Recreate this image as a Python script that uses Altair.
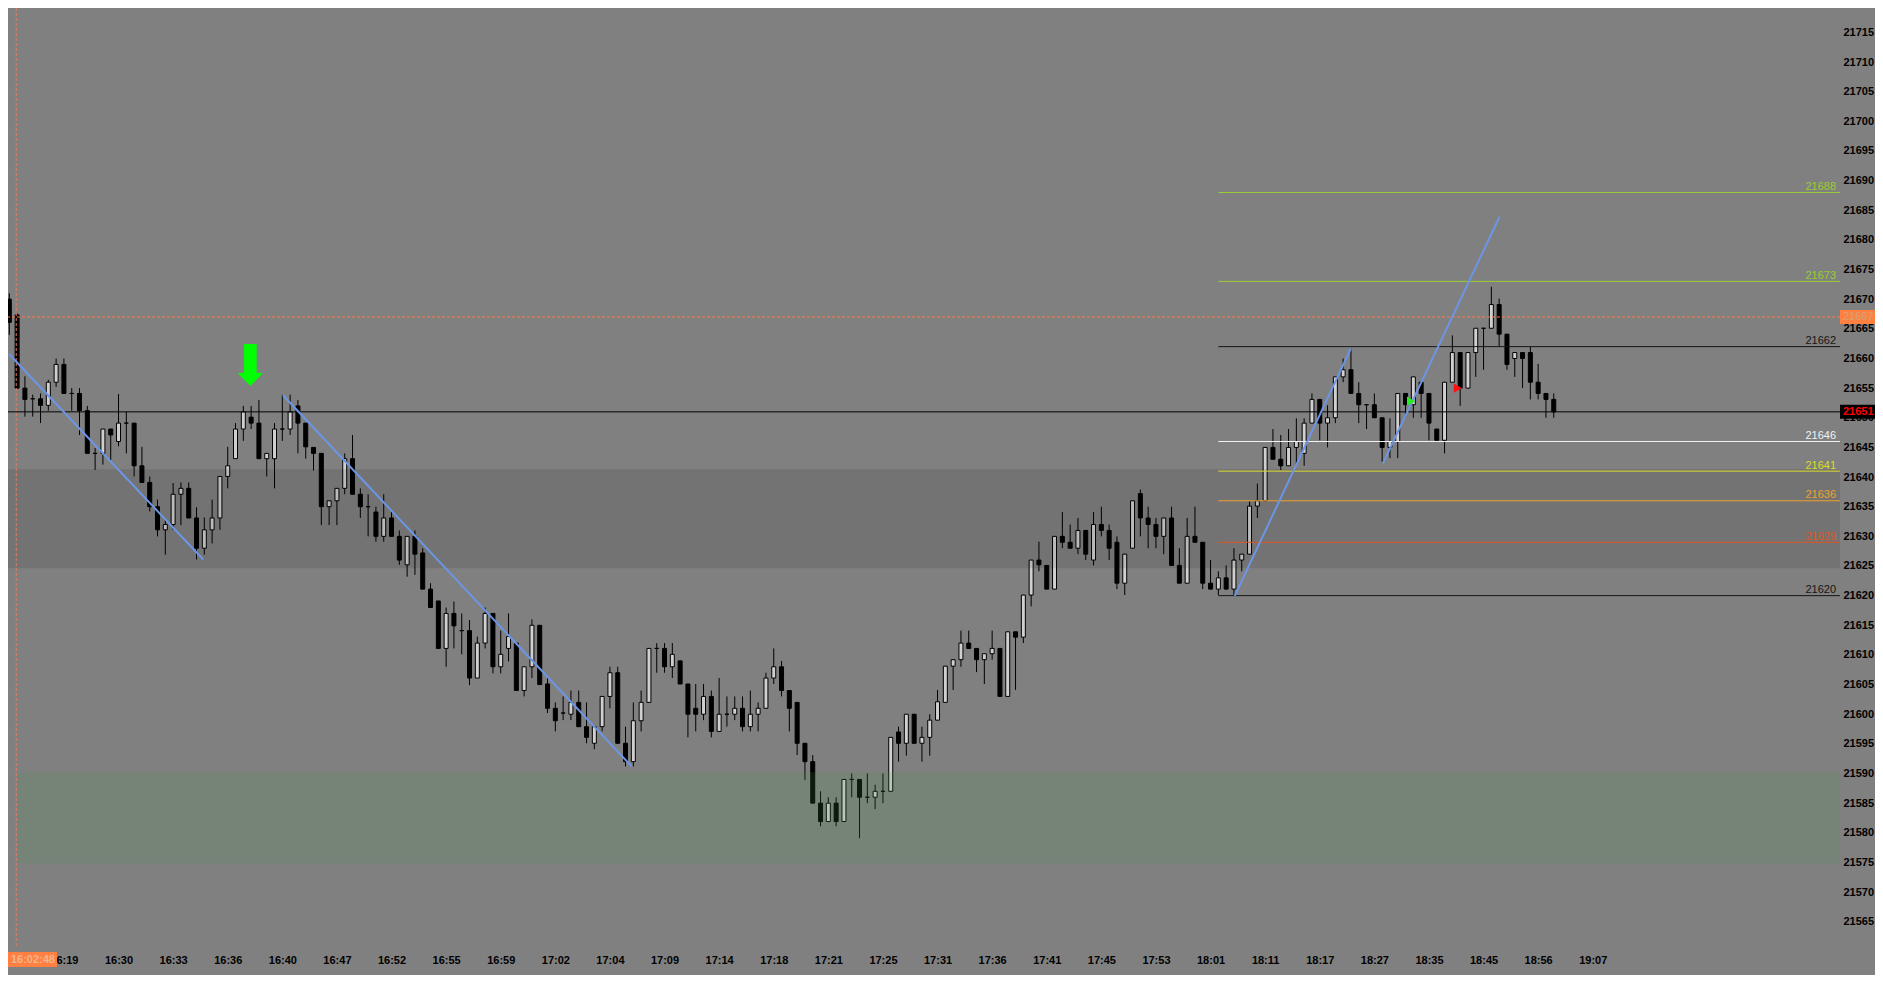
import json
import altair as alt
import pandas as pd

# ---------------- data ----------------
opens = [21670.0, 21667.35, 21655.0, 21653.2, 21653.2, 21652.1, 21656.0, 21659.0, 21654.1, 21654.1,
         21651.2, 21644.0, 21644.0, 21648.1, 21646.0, 21649.1, 21649.1, 21641.9, 21639.1, 21635.0,
         21631.1, 21632.0, 21637.1, 21638.1, 21633.1, 21628.0, 21631.1, 21633.1, 21640.1, 21643.1,
         21648.1, 21650.1, 21649.1, 21643.1, 21643.1, 21648.1, 21648.1, 21652.0, 21649.1, 21645.0,
         21644.0, 21635.0, 21636.0, 21638.1, 21643.1, 21637.1, 21635.0, 21634.1, 21630.0, 21633.1,
         21630.0, 21625.2, 21630.0, 21627.2, 21621.1, 21619.1, 21611.1, 21617.0, 21614.1, 21614.1,
         21606.1, 21612.0, 21617.0, 21608.0, 21611.1, 21612.0, 21604.0, 21608.0, 21615.0, 21605.1,
         21601.0, 21600.2, 21600.0, 21602.0, 21597.9, 21595.1, 21597.9, 21603.0, 21607.0, 21595.1,
         21592.0, 21598.9, 21602.0, 21611.1, 21611.1, 21608.0, 21609.0, 21605.1, 21601.0, 21600.0,
         21603.0, 21597.1, 21600.0, 21600.0, 21601.0, 21597.9, 21600.0, 21601.0, 21606.1, 21608.0,
         21604.0, 21602.0, 21595.1, 21592.0, 21585.0, 21581.9, 21585.0, 21581.9, 21589.0, 21589.0,
         21586.0, 21586.0, 21587.0, 21587.0, 21597.0, 21595.1, 21600.0, 21595.1, 21596.1, 21599.0,
         21602.0, 21608.1, 21609.2, 21612.0, 21611.1, 21609.2, 21610.2, 21611.1, 21603.0, 21613.9,
         21613.0, 21620.1, 21626.0, 21625.1, 21621.1, 21630.0, 21629.0, 21628.0, 21631.0, 21626.0,
         21632.0, 21631.0, 21629.0, 21622.1, 21628.0, 21637.2, 21633.1, 21632.0, 21630.0, 21633.1,
         21625.1, 21622.1, 21630.0, 21629.0, 21622.1, 21621.1, 21623.0, 21621.1, 21626.0, 21627.0,
         21635.1, 21636.0, 21645.0, 21643.0, 21641.9, 21645.0, 21644.0, 21649.1, 21653.1, 21649.1,
         21650.0, 21656.9, 21658.1, 21654.1, 21652.2, 21652.2, 21650.0, 21645.0, 21646.0, 21654.1,
         21652.2, 21656.0, 21654.1, 21648.1, 21646.2, 21656.0, 21661.0, 21655.0, 21661.0, 21665.1,
         21665.1, 21669.1, 21664.1, 21660.0, 21661.0, 21661.0, 21656.0, 21654.1, 21653.1]
highs = [21671.0, 21667.6, 21657.0, 21653.9, 21654.1, 21656.4, 21660.0, 21660.0, 21655.0, 21655.0,
         21652.0, 21644.9, 21648.1, 21648.1, 21654.0, 21651.0, 21649.1, 21645.1, 21640.1, 21636.2,
         21632.8, 21639.0, 21639.1, 21639.1, 21634.9, 21633.2, 21636.2, 21640.1, 21645.1, 21649.1,
         21652.0, 21652.0, 21653.0, 21644.0, 21649.1, 21653.9, 21653.9, 21653.0, 21649.1, 21645.0,
         21644.0, 21636.0, 21638.1, 21644.0, 21647.1, 21638.1, 21637.1, 21635.0, 21637.1, 21634.1,
         21631.0, 21630.0, 21631.0, 21628.0, 21622.1, 21619.1, 21618.0, 21619.0, 21617.0, 21615.9,
         21613.1, 21618.0, 21617.0, 21614.1, 21617.0, 21612.0, 21608.0, 21616.0, 21615.0, 21606.1,
         21602.0, 21603.0, 21604.0, 21604.0, 21602.0, 21597.9, 21603.0, 21608.0, 21608.0, 21597.9,
         21602.0, 21604.0, 21611.1, 21612.0, 21612.0, 21612.0, 21609.0, 21605.1, 21605.1, 21605.1,
         21604.0, 21606.1, 21603.0, 21603.0, 21603.0, 21604.0, 21602.0, 21607.0, 21611.1, 21609.0,
         21604.0, 21602.0, 21595.1, 21593.1, 21587.0, 21586.0, 21586.0, 21589.0, 21590.0, 21589.0,
         21590.0, 21588.1, 21590.0, 21596.1, 21597.9, 21600.0, 21600.0, 21597.9, 21600.0, 21604.1,
         21608.1, 21609.2, 21614.1, 21614.1, 21611.1, 21610.2, 21614.1, 21611.1, 21613.9, 21613.9,
         21620.1, 21626.0, 21629.1, 21625.1, 21630.0, 21634.1, 21632.0, 21633.1, 21631.0, 21634.1,
         21635.0, 21632.0, 21630.0, 21627.0, 21636.0, 21637.9, 21635.0, 21633.1, 21633.1, 21635.0,
         21628.0, 21633.1, 21635.0, 21629.0, 21626.0, 21624.1, 21625.1, 21628.0, 21627.0, 21635.9,
         21638.9, 21645.0, 21648.1, 21647.1, 21648.1, 21649.9, 21649.9, 21654.1, 21653.1, 21652.1,
         21656.9, 21660.0, 21661.7, 21656.0, 21652.2, 21654.1, 21650.0, 21649.9, 21654.1, 21654.1,
         21656.9, 21656.0, 21654.1, 21648.1, 21656.0, 21663.9, 21661.0, 21661.0, 21665.1, 21665.1,
         21672.1, 21670.1, 21664.1, 21661.0, 21661.0, 21662.0, 21659.1, 21654.1, 21654.1]
lows = [21664.0, 21655.0, 21650.2, 21650.2, 21649.1, 21651.2, 21655.2, 21654.1, 21651.2, 21647.1,
        21644.0, 21641.2, 21642.1, 21642.9, 21645.2, 21644.0, 21640.1, 21639.1, 21634.2, 21630.0,
        21626.9, 21631.1, 21631.9, 21633.1, 21626.1, 21626.9, 21628.8, 21631.1, 21638.1, 21643.1,
        21646.1, 21648.1, 21643.1, 21640.1, 21638.1, 21646.1, 21647.1, 21644.0, 21643.1, 21641.1,
        21631.9, 21631.9, 21631.9, 21637.1, 21637.1, 21633.1, 21630.0, 21629.1, 21629.1, 21630.0,
        21625.2, 21623.2, 21623.5, 21621.1, 21618.0, 21611.1, 21608.0, 21611.1, 21610.1, 21604.9,
        21606.1, 21611.1, 21606.9, 21606.9, 21608.9, 21604.0, 21603.0, 21606.1, 21605.0, 21600.2,
        21597.1, 21599.0, 21599.0, 21597.9, 21595.1, 21594.1, 21597.1, 21601.0, 21595.1, 21591.2,
        21591.2, 21597.1, 21602.0, 21607.0, 21607.0, 21606.1, 21605.1, 21596.1, 21597.1, 21599.0,
        21596.1, 21597.1, 21597.9, 21599.0, 21597.1, 21597.1, 21597.1, 21601.0, 21605.1, 21603.0,
        21597.1, 21593.1, 21588.9, 21585.0, 21581.1, 21581.9, 21581.1, 21581.9, 21586.0, 21579.1,
        21585.0, 21584.0, 21585.0, 21587.0, 21592.0, 21593.0, 21595.1, 21592.0, 21593.0, 21599.0,
        21602.0, 21604.1, 21608.0, 21611.1, 21607.1, 21605.1, 21609.2, 21603.0, 21603.0, 21604.1,
        21612.0, 21618.2, 21624.1, 21621.1, 21621.1, 21628.0, 21628.0, 21627.0, 21626.0, 21625.1,
        21630.0, 21626.0, 21621.1, 21620.1, 21628.0, 21630.0, 21628.0, 21628.0, 21627.0, 21625.1,
        21622.1, 21622.1, 21629.0, 21621.1, 21621.1, 21620.1, 21621.1, 21620.1, 21624.1, 21627.0,
        21633.1, 21636.0, 21643.0, 21641.2, 21641.9, 21641.9, 21641.9, 21649.1, 21646.2, 21645.0,
        21649.1, 21656.0, 21654.1, 21649.1, 21648.1, 21650.0, 21642.6, 21643.2, 21643.2, 21650.0,
        21650.0, 21650.0, 21646.2, 21646.2, 21644.0, 21656.0, 21652.0, 21655.0, 21656.9, 21658.1,
        21665.1, 21662.0, 21658.1, 21656.9, 21655.0, 21653.1, 21653.1, 21650.0, 21650.0]
closes = [21666.1, 21655.0, 21653.1, 21653.2, 21652.1, 21656.0, 21659.0, 21654.1, 21654.1, 21651.2,
          21644.0, 21644.0, 21648.1, 21647.1, 21649.1, 21649.1, 21641.9, 21639.1, 21635.0, 21631.1,
          21632.0, 21637.1, 21638.1, 21633.1, 21628.0, 21631.1, 21633.1, 21640.1, 21641.9, 21648.1,
          21651.0, 21649.1, 21643.1, 21644.0, 21648.1, 21648.1, 21651.0, 21649.1, 21645.1, 21644.0,
          21635.0, 21636.0, 21638.1, 21643.1, 21637.1, 21635.0, 21635.0, 21630.0, 21633.1, 21630.0,
          21626.0, 21630.0, 21627.0, 21621.1, 21618.0, 21611.1, 21617.0, 21614.9, 21614.1, 21606.1,
          21612.0, 21617.0, 21608.0, 21610.1, 21613.1, 21604.0, 21608.0, 21615.0, 21605.0, 21601.0,
          21598.9, 21600.2, 21602.0, 21597.9, 21596.1, 21597.9, 21603.0, 21607.0, 21595.1, 21592.0,
          21598.9, 21602.0, 21611.1, 21611.1, 21608.0, 21610.1, 21605.1, 21600.0, 21600.0, 21603.0,
          21597.1, 21600.0, 21600.0, 21601.0, 21597.9, 21600.0, 21601.0, 21606.1, 21608.0, 21604.0,
          21601.0, 21595.1, 21592.0, 21585.0, 21581.9, 21585.0, 21581.9, 21589.0, 21589.0, 21586.0,
          21586.0, 21587.0, 21587.0, 21596.1, 21595.1, 21600.0, 21595.1, 21596.1, 21599.0, 21602.1,
          21608.1, 21609.2, 21612.0, 21611.1, 21609.2, 21610.2, 21611.1, 21603.0, 21613.9, 21613.0,
          21620.1, 21626.0, 21625.2, 21621.1, 21630.0, 21629.0, 21628.0, 21631.0, 21627.0, 21632.0,
          21631.0, 21628.0, 21622.1, 21627.0, 21636.0, 21633.1, 21632.0, 21630.0, 21633.1, 21625.1,
          21622.1, 21630.0, 21629.0, 21622.1, 21621.1, 21623.0, 21621.1, 21626.0, 21627.0, 21635.1,
          21636.0, 21645.0, 21643.0, 21641.9, 21645.0, 21646.0, 21649.1, 21653.1, 21649.1, 21650.0,
          21656.9, 21658.1, 21654.1, 21652.2, 21652.2, 21650.0, 21645.0, 21646.0, 21654.1, 21652.2,
          21656.9, 21654.1, 21649.1, 21646.2, 21656.0, 21661.0, 21655.0, 21661.0, 21665.1, 21665.1,
          21669.1, 21664.1, 21659.0, 21661.0, 21660.0, 21656.0, 21654.1, 21653.1, 21651.0]

time_labels = ["16:19", "16:30", "16:33", "16:36", "16:40", "16:47", "16:52", "16:55", "16:59",
               "17:02", "17:04", "17:09", "17:14", "17:18", "17:21", "17:25", "17:31", "17:36",
               "17:41", "17:45", "17:53", "18:01", "18:11", "18:17", "18:27", "18:35", "18:45",
               "18:56", "19:07"]
first_label_bar = 8
bars_per_label = 7

y_ticks = list(range(21565, 21716, 5))

level_prices = [21688, 21673, 21662, 21646, 21641, 21636, 21629, 21620]
level_start_bar = 156

current_price = 21651
marker_price = 21667
crosshair_bar = 1.89
crosshair_time = "1 16:02:48"

gray_zone = [21641.3, 21624.6]
green_zone = [21590.2, 21574.8]
green_zone_start_bar = 2

trend_ids = ["t1", "t1", "t2", "t2", "t3", "t3", "t4", "t4"]
trend_bars = [0.96, 25.86, 36.06, 80.78, 158.1, 173.0, 177.1, 192.05]
trend_prices = [21660.76, 21626.1, 21653.85, 21591.2, 21619.95, 21661.7, 21642.3, 21683.9]

arrow_bar = 31.9
arrow_price = 21658.9
buy_bar, buy_price = 180.7, 21652.8
sell_bar, sell_price = 186.7, 21655.0

# ---------------- styles ----------------
level_line_colors = ["#9acd32", "#9acd32", "#151515", "#f2f2f2", "#dcdc28", "#f0a030", "#e05424", "#151515"]
level_text_colors = ["#a9d66b", "#a9d66b", "#1a1a1a", "#f4f4f4", "#f0f048", "#f0b048", "#e85a30", "#1a1a1a"]
BG = "#808080"
FONT = "Liberation Sans"
W, H = 1832, 940

# ---------------- frames ----------------
n = len(opens)
candles = pd.DataFrame({
    "i": list(range(1, n + 1)), "o": opens, "h": highs, "l": lows, "c": closes,
})
candles["dir"] = ["up" if c > o else ("down" if c < o else "flat") for o, c in zip(opens, closes)]

levels = pd.DataFrame({"p": level_prices, "lab": [str(p) for p in level_prices],
                       "start": [level_start_bar] * len(level_prices)})
trends = pd.DataFrame({"id": trend_ids, "i": trend_bars, "p": trend_prices})

xs = alt.Scale(domain=[1.4718, 235.056], nice=False, zero=False)
ys = alt.Scale(domain=[21560.57, 21719.115], nice=False, zero=False)

label_expr = json.dumps(time_labels) + f"[round((datum.value - {first_label_bar}) / {bars_per_label})]"
xaxis = alt.Axis(values=[first_label_bar + bars_per_label * k for k in range(len(time_labels))],
                 labelExpr=label_expr, title=None, ticks=False, domain=False, grid=False,
                 labelFont=FONT, labelFontSize=11, labelFontWeight="bold", labelColor="#000",
                 labelPadding=6, labelOverlap=False, labelBound=False, labelFlush=False, zindex=0)
yaxis = alt.Axis(values=y_ticks, orient="right", format="d", title=None, ticks=False, domain=False,
                 grid=False, labelFont=FONT, labelFontSize=11, labelFontWeight="bold",
                 labelColor="#000", labelAlign="left", labelPadding=3, labelOverlap=False,
                 labelBound=False, labelFlush=False, zindex=0)


def X(f):
    return alt.X(f, type="quantitative", scale=xs, axis=xaxis)


def Y(f):
    return alt.Y(f, type="quantitative", scale=ys, axis=yaxis)


base = alt.Chart(candles)
wicks = base.mark_rule(color="#000", strokeWidth=1).encode(x=X("i"), y=Y("l"), y2="h")
bodies = base.mark_bar(size=4, stroke="#000", strokeWidth=1).encode(
    x=X("i"), y=Y("o"), y2="c",
    fill=alt.Color("dir:N", scale=alt.Scale(domain=["up", "down", "flat"],
                                            range=["#d0d0d0", "#000000", "#000000"]), legend=None))

zones_df = pd.DataFrame({"z": ["gray", "green"], "top": [gray_zone[0], green_zone[0]],
                         "bot": [gray_zone[1], green_zone[1]]})
gray_rect = alt.Chart(zones_df[zones_df.z == "gray"]).mark_rect(color="#000", opacity=0.1).encode(
    x=alt.value(0), x2=alt.value(W), y=Y("top"), y2="bot")
green_rect = alt.Chart(zones_df[zones_df.z == "green"].assign(s=green_zone_start_bar)).mark_rect(
    color="#4a9a55", opacity=0.17).encode(x=X("s"), x2=alt.value(W), y=Y("top"), y2="bot")

lvl_lines = alt.Chart(levels).mark_rule(strokeWidth=1).encode(
    x=X("start"), x2=alt.value(W), y=Y("p"),
    color=alt.Color("lab:N", scale=alt.Scale(domain=levels["lab"].tolist(), range=level_line_colors),
                    legend=None))
lvl_text = alt.Chart(levels).mark_text(align="right", baseline="alphabetic", dy=-2.5, font=FONT,
                                       fontSize=11).encode(
    x=alt.value(W - 4), y=Y("p"), text="lab:N",
    color=alt.Color("lab:N", scale=alt.Scale(domain=levels["lab"].tolist(), range=level_text_colors),
                    legend=None))

marks_df = pd.DataFrame({"p": [current_price, marker_price], "lab": [str(current_price), str(marker_price)]})
cur_line = alt.Chart(marks_df.iloc[[0]]).mark_rule(color="#000", strokeWidth=1).encode(y=Y("p"))
mk_line = alt.Chart(marks_df.iloc[[1]]).mark_rule(color="#ff7a40", strokeWidth=1,
                                                  strokeDash=[3, 2]).encode(y=Y("p"))
vline = alt.Chart(pd.DataFrame({"i": [crosshair_bar]})).mark_rule(
    color="#f08060", strokeWidth=1, strokeDash=[3, 2], opacity=0.9).encode(x=X("i"))

trend = alt.Chart(trends).mark_line(color="#6b96e6", strokeWidth=2).encode(
    x=X("i"), y=Y("p"), detail="id:N")

arrow_shape = "M-0.3,-1L0.3,-1L0.3,0.38L0.6,0.38L0,1L-0.6,0.38L-0.3,0.38Z"
arrow = alt.Chart(pd.DataFrame({"i": [arrow_bar], "p": [arrow_price]})).mark_point(
    shape=arrow_shape, size=1764, filled=True, color="#00ff00", opacity=1).encode(x=X("i"), y=Y("p"))
buy_sig = alt.Chart(pd.DataFrame({"i": [buy_bar], "p": [buy_price]})).mark_point(
    shape="triangle-right", size=85, filled=True, opacity=1, color="#22ee22").encode(x=X("i"), y=Y("p"))
sell_sig = alt.Chart(pd.DataFrame({"i": [sell_bar], "p": [sell_price]})).mark_point(
    shape="triangle-right", size=85, filled=True, opacity=1, color="#ff1010").encode(x=X("i"), y=Y("p"))

box_shape = "M-1,-0.35L1,-0.35L1,0.35L-1,0.35Z"
cur_box = alt.Chart(marks_df.iloc[[0]]).mark_point(shape=box_shape, size=1600, filled=True,
                                                   color="#000", opacity=1).encode(
    x=alt.value(W + 20), y=Y("p"))
mk_box = alt.Chart(marks_df.iloc[[1]]).mark_point(shape=box_shape, size=1600, filled=True,
                                                  color="#ff8040", opacity=1).encode(
    x=alt.value(W + 20), y=Y("p"))
cur_txt = alt.Chart(marks_df.iloc[[0]]).mark_text(align="left", baseline="middle", font=FONT,
                                                  fontSize=11, fontWeight="bold", color="#ff0000").encode(
    x=alt.value(W + 3), y=Y("p"), text="lab:N")
mk_txt = alt.Chart(marks_df.iloc[[1]]).mark_text(align="left", baseline="middle", font=FONT,
                                                 fontSize=11, color="#d8a078").encode(
    x=alt.value(W + 3), y=Y("p"), text="lab:N")

time_df = pd.DataFrame({"t": [crosshair_time]})
time_box = alt.Chart(time_df).mark_rect(color="#ff8040").encode(
    x=alt.value(0), x2=alt.value(49), y=alt.value(H + 4), y2=alt.value(H + 19))
time_txt = alt.Chart(time_df).mark_text(align="right", baseline="middle", font=FONT, fontSize=11,
                                        fontWeight="bold", color="#f2b48c").encode(
    x=alt.value(47), y=alt.value(H + 12), text="t:N")

chart = alt.layer(
    wicks, bodies, gray_rect, green_rect, vline, mk_line, cur_line, lvl_lines, lvl_text,
    trend, arrow, buy_sig, sell_sig, cur_box, mk_box, cur_txt, mk_txt, time_box, time_txt
).properties(
    width=W, height=H,
    autosize=alt.AutoSizeParams(type="none"),
    padding={"left": 0, "top": 0, "right": 35, "bottom": 27},
).configure(background=BG).configure_view(fill=BG, strokeWidth=0)

chart.save("out.html", embed_options={"renderer": "svg", "actions": False})
